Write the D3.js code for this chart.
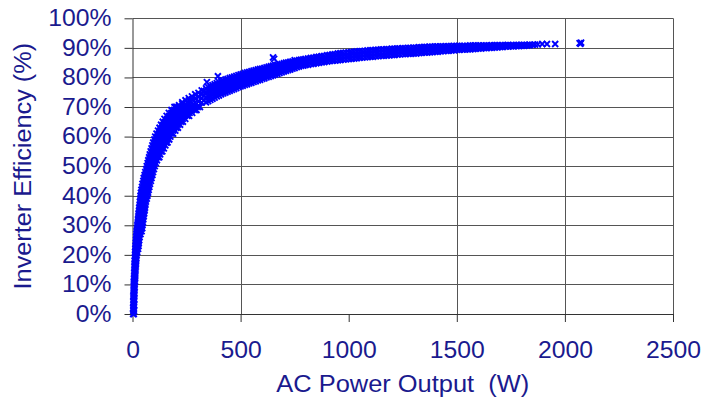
<!DOCTYPE html>
<html><head><meta charset="utf-8">
<script src="https://cdn.jsdelivr.net/npm/d3@7"></script>
<style>
html,body{margin:0;padding:0;background:#fff;}
svg{display:block;}
</style></head><body>
<svg id="chart" width="704" height="397"></svg>
<script>
// ---- tick values ----
const xTicks = [0, 500, 1000, 1500, 2000, 2500];
const xGridLines = [500, 1500, 2000, 2500];
const yTicks = [0, 10, 20, 30, 40, 50, 60, 70, 80, 90, 100];
const xTitle = "AC Power Output  (W)";
const yTitle = "Inverter Efficiency (%)";

// ---- low-load part of the scatter: [efficiency %, power W, power W, ...] ----
const lowLoadRows = [
  [0, 3, 6], [1, 4, 7], [2, 3, 6], [3, 4, 8], [4, 4, 7], [5, 5, 8], [6, 4, 8], [7, 5, 9],
  [8, 5, 9], [9, 6, 10], [10, 6, 10], [11, 6, 11], [12, 7, 12], [13, 8, 13],
  [14, 8, 13], [15, 9, 14], [16, 9, 15], [17, 10, 16], [18, 10, 17], [19, 11, 18], [20, 12, 19],
  [21, 12, 17, 22], [22, 13, 20, 26], [23, 14, 19, 24, 28], [24, 15, 22, 29],
  [25, 16, 21, 27, 31], [26, 17, 25, 33], [27, 18, 24, 30, 37],
  [28, 19, 27, 35, 42], [29, 21, 27, 34, 40, 45], [30, 22, 30, 38, 46],
  [31, 24, 30, 37, 44, 48], [32, 25, 33, 41, 50], [33, 27, 34, 41, 48, 52],
  [34, 28, 36, 45, 54], [35, 30, 37, 45, 52, 56], [36, 31, 40, 49, 58],
  [37, 33, 41, 49, 56, 60], [38, 34, 43, 52, 62], [39, 36, 44, 52, 60, 66],
  [40, 37, 46, 55, 63, 69], [41, 39, 48, 57, 65, 72], [42, 41, 50, 59, 67, 75],
  [43, 44, 53, 62, 70, 78], [44, 46, 55, 64, 72, 81], [45, 50, 58, 67, 76, 85],
  [46, 52, 61, 70, 79, 88], [47, 56, 65, 74, 83, 92], [48, 59, 68, 77, 86, 95],
  [49, 63, 72, 81, 90, 99], [50, 66, 75, 84, 93, 103], [51, 70, 79, 88, 98, 108],
  [52, 73, 83, 93, 103, 113], [53, 77, 87, 97, 107, 117, 124],
  [54, 80, 90, 100, 110, 120, 128], [55, 84, 94, 104, 114, 124, 133, 138],
  [56, 88, 98, 108, 118, 128, 138, 145], [57, 92, 102, 112, 122, 132, 142, 152],
  [58, 96, 106, 116, 126, 136, 146, 156, 162],
  [59, 101, 111, 121, 131, 141, 151, 161, 170],
  [60, 105, 115, 125, 135, 145, 155, 165, 175],
  [61, 111, 121, 131, 141, 151, 161, 171, 181, 188],
  [62, 118, 128, 138, 148, 158, 168, 178, 188, 198],
  [63, 125, 136, 147, 158, 169, 180, 191, 202, 210],
  [64, 132, 143, 154, 165, 176, 187, 198, 209, 220],
  [65, 140, 152, 164, 176, 188, 200, 212, 224, 233],
  [66, 148, 160, 172, 184, 196, 208, 220, 232, 244],
  [67, 158, 170, 182, 194, 206, 218, 230, 242, 254, 262],
  [68, 168, 180, 192, 204, 216, 228, 240, 252, 264, 276],
  [69, 180, 192, 204, 216, 228, 240, 252, 264, 276, 288, 296],
  [70, 194, 206, 218, 230, 242, 254, 266, 278, 290, 302, 312]
];

// ---- higher-load part of the scatter: [power W, efficiency %, ...] ----
const highLoadRows = [
  [200, 70.0], [215, 70.6], [230, 71.0, 71.6], [245, 71.0, 72.3],
  [260, 71.2, 72.2, 73.0], [275, 71.4, 72.6, 73.6], [290, 71.6, 73.0, 74.3],
  [305, 71.8, 73.4, 74.8], [320, 71.5, 73.0, 74.4, 75.6],
  [330, 72.2, 73.8, 75.4], [340, 71.6, 73.3, 75.0, 76.3], [350, 72.0, 73.6, 75.3, 76.7],
  [360, 72.4, 74.0, 75.6, 77.0], [370, 72.8, 74.4, 76.0, 77.4],
  [380, 73.2, 74.8, 76.3, 77.7], [390, 73.6, 75.1, 76.6, 78.1], [400, 73.9, 75.4, 76.9, 78.4],
  [410, 74.3, 75.8, 77.3, 78.7], [420, 74.6, 76.1, 77.6, 79.0], [430, 74.9, 76.4, 77.9, 79.3],
  [440, 75.2, 76.6, 78.1, 79.5], [450, 75.5, 76.9, 78.4, 79.8],
  [460, 75.8, 77.2, 78.6, 80.0], [470, 76.1, 77.5, 78.9, 80.3], [480, 76.4, 77.8, 79.1, 80.5],
  [490, 76.7, 78.1, 79.4, 80.8], [500, 77.0, 78.3, 79.7, 81.0], [510, 77.2, 78.6, 79.9, 81.2],
  [520, 77.5, 78.8, 80.2, 81.5], [530, 77.7, 79.1, 80.4, 81.7],
  [540, 78.0, 79.3, 80.6, 81.9], [550, 78.2, 79.5, 80.8, 82.1], [560, 78.5, 79.8, 81.0, 82.3],
  [570, 78.7, 80.0, 81.3, 82.5], [580, 79.0, 80.2, 81.5, 82.7], [590, 79.2, 80.5, 81.7, 82.9],
  [600, 79.5, 80.7, 81.9, 83.0], [610, 79.7, 80.9, 82.1, 83.2],
  [620, 80.0, 81.1, 82.3, 83.4], [630, 80.2, 81.4, 82.5, 83.6], [640, 80.5, 81.6, 82.7, 83.8],
  [650, 80.7, 81.8, 82.9, 84.0], [660, 81.0, 82.1, 83.1, 84.2], [670, 81.2, 82.3, 83.3, 84.3],
  [680, 81.5, 82.5, 83.5, 84.5], [690, 81.7, 82.7, 83.7, 84.6],
  [700, 82.0, 82.9, 83.9, 84.8], [710, 82.2, 83.1, 84.0, 85.0], [720, 82.5, 83.4, 84.2, 85.1],
  [730, 82.7, 83.6, 84.4, 85.3], [740, 83.0, 83.8, 84.6, 85.4], [750, 83.2, 84.2, 85.2, 85.8],
  [760, 83.5, 84.6, 85.7], [770, 83.7, 84.7, 85.8], [780, 83.9, 84.9, 86.0],
  [790, 84.0, 85.0, 86.1], [800, 84.2, 85.2, 86.3], [812, 84.3, 85.3, 86.4],
  [825, 84.5, 85.5, 86.6], [837, 84.6, 85.6, 86.7], [850, 84.8, 85.8, 86.9],
  [862, 84.9, 85.9, 87.0], [875, 85.1, 86.1, 87.2], [887, 85.2, 86.2, 87.3],
  [900, 85.4, 86.4, 87.5], [912, 85.5, 86.5, 87.6], [925, 85.6, 86.7, 87.8],
  [937, 85.7, 86.8, 87.9], [950, 85.8, 86.9, 88.1], [962, 85.9, 87.0, 88.2],
  [975, 86.0, 87.2, 88.3], [987, 86.1, 87.2, 88.4], [1000, 86.2, 87.3, 88.5],
  [1012, 86.3, 87.4, 88.6], [1025, 86.4, 87.5, 88.7], [1037, 86.5, 87.6, 88.8],
  [1050, 86.6, 87.7, 88.9], [1062, 86.7, 87.8, 88.9], [1075, 86.8, 87.9, 89.0],
  [1087, 86.9, 88.0, 89.1], [1100, 87.0, 88.1, 89.2], [1112, 87.0, 88.1, 89.2],
  [1125, 87.1, 88.2, 89.3], [1137, 87.2, 88.3, 89.4], [1150, 87.3, 88.4, 89.5],
  [1162, 87.3, 88.4, 89.5], [1175, 87.4, 88.5, 89.6], [1187, 87.5, 88.6, 89.6],
  [1200, 87.6, 88.6, 89.7], [1212, 87.6, 88.7, 89.7], [1225, 87.7, 88.8, 89.8],
  [1237, 87.8, 88.8, 89.8], [1250, 87.9, 88.9, 89.9], [1262, 87.9, 88.9, 89.9],
  [1275, 88.0, 89.0, 90.0], [1287, 88.0, 89.0, 90.0], [1300, 88.1, 89.1, 90.1],
  [1312, 88.1, 89.1, 90.1], [1325, 88.2, 89.2, 90.2], [1337, 88.3, 89.2, 90.2],
  [1350, 88.4, 89.3, 90.3], [1362, 88.4, 89.4, 90.3], [1375, 88.5, 89.5, 90.4],
  [1387, 88.6, 89.5, 90.4], [1400, 88.7, 89.6, 90.5], [1412, 88.7, 89.6, 90.5],
  [1425, 88.8, 89.7, 90.5], [1437, 88.9, 89.7, 90.5], [1450, 89.0, 89.8, 90.6],
  [1462, 89.0, 89.8, 90.6], [1475, 89.1, 89.9, 90.6], [1487, 89.2, 89.9, 90.7],
  [1500, 89.3, 90.0, 90.7], [1512, 89.3, 90.0, 90.7], [1525, 89.4, 90.1, 90.7],
  [1537, 89.4, 90.1, 90.7], [1550, 89.5, 90.1, 90.7], [1562, 89.5, 90.2, 90.8],
  [1575, 89.6, 90.2, 90.8], [1587, 89.7, 90.2, 90.8], [1600, 89.8, 90.3, 90.8],
  [1612, 89.8, 90.3, 90.8], [1625, 89.9, 90.4, 90.8], [1637, 89.9, 90.4, 90.8],
  [1650, 90.0, 90.4, 90.8], [1662, 90.0, 90.5, 90.9], [1675, 90.1, 90.5, 90.9],
  [1687, 90.2, 90.6, 90.9], [1700, 90.3, 90.6, 90.9], [1712, 90.3, 90.7, 90.9],
  [1725, 90.4, 90.7, 90.9], [1737, 90.4, 90.8, 91.0], [1750, 90.5, 90.9],
  [1762, 90.5, 90.9], [1775, 90.6, 91.0], [1787, 90.6, 91.0], [1800, 90.7, 91.0],
  [1812, 90.7, 91.0], [1825, 90.8, 91.0], [1837, 90.9, 91.1], [1850, 91.0],
  [1862, 91.1], [1875, 91.2]
];

// ---- isolated points: [power W, efficiency %] ----
const outliers = [
  [344, 78.4], [395, 80.4], [650, 86.8], [655, 86.3],
  [1895, 91.3], [1917, 91.3], [1955, 91.3],
  [2068, 91.6], [2072, 91.4], [2075, 91.8]
];

const points = [];
lowLoadRows.forEach(r => r.slice(1).forEach(p => points.push([p, r[0]])));
highLoadRows.forEach(r => r.slice(1).forEach(e => points.push([r[0], e])));
outliers.forEach(o => points.push(o));

const textColor = "#1a1a8e";
const fontFamily = "'Liberation Sans', Arial, Helvetica, sans-serif";
const svg = d3.select("#chart");

const x = d3.scaleLinear().domain([0, 2500]).range([132.5, 673]);
const y = d3.scaleLinear().domain([0, 100]).range([314, 18.3]);

function stretch(sel, k) {
  sel.each(function () {
    const w = this.getComputedTextLength();
    d3.select(this).attr("textLength", w * k).attr("lengthAdjust", "spacingAndGlyphs");
  });
}

// gridlines
svg.append("g").selectAll("line").data(yTicks.filter(d => d > 0)).join("line")
  .attr("x1", x(0)).attr("x2", x(2500))
  .attr("y1", d => Math.round(y(d)) + 0.5).attr("y2", d => Math.round(y(d)) + 0.5)
  .attr("stroke", "#555").attr("stroke-width", 1);
svg.append("g").selectAll("line").data(xGridLines).join("line")
  .attr("x1", d => Math.round(x(d)) + 0.5).attr("x2", d => Math.round(x(d)) + 0.5)
  .attr("y1", y(100)).attr("y2", y(0))
  .attr("stroke", "#555").attr("stroke-width", 1);

// axes
const yAxis = svg.append("g").attr("transform", `translate(${x(0)},0)`)
  .call(d3.axisLeft(y).tickValues(yTicks).tickSize(8).tickSizeOuter(0).tickPadding(13)
    .tickFormat(d => d + "%"));
const xAxis = svg.append("g").attr("transform", `translate(0,${y(0)})`)
  .call(d3.axisBottom(x).tickValues(xTicks).tickSize(8).tickSizeOuter(0).tickPadding(20)
    .tickFormat(d3.format("d")));
[yAxis, xAxis].forEach(a => {
  a.select(".domain").attr("stroke", "#333");
  a.selectAll(".tick line").attr("stroke", "#333");
  a.selectAll(".tick text").attr("fill", textColor)
    .attr("font-family", fontFamily).attr("font-size", 23);
  stretch(a.selectAll(".tick text"), 1.075);
});

// scatter
svg.append("g").selectAll("path").data(points).join("path")
  .attr("transform", d => `translate(${x(d[0])},${y(d[1])})`)
  .attr("d", "M-3,-3L3,3M-3,3L3,-3")
  .attr("stroke", "#0000ff").attr("stroke-width", 1.9).attr("fill", "none");

// titles
const xt = svg.append("text").attr("x", (x(0) + x(2500)) / 2).attr("y", 391.5)
  .attr("text-anchor", "middle").attr("fill", textColor)
  .style("white-space", "pre")
  .attr("font-family", fontFamily).attr("font-size", 23).text(xTitle);
stretch(xt, 1.105);
const yt = svg.append("text")
  .attr("transform", `translate(30.5,${(y(0) + y(100)) / 2}) rotate(-90)`)
  .attr("text-anchor", "middle").attr("fill", textColor)
  .attr("font-family", fontFamily).attr("font-size", 23).text(yTitle);
stretch(yt, 1.098);
</script>
</body></html>
